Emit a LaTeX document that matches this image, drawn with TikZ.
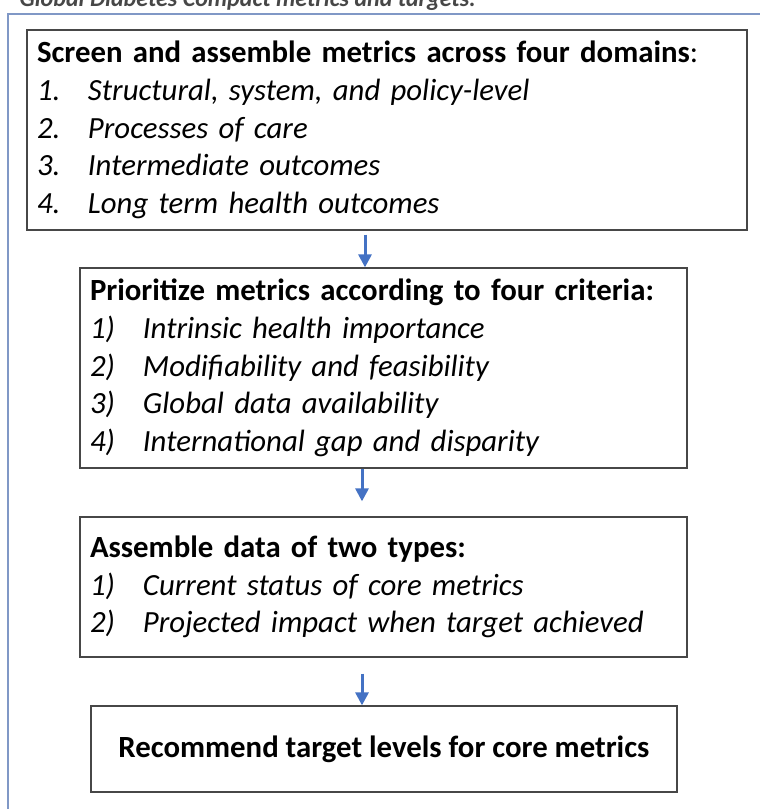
\documentclass[tikz,border=0pt]{standalone}
\usepackage{fontspec}
\setmainfont{Carlito}
\usetikzlibrary{arrows.meta,positioning}

\definecolor{frameblue}{RGB}{128,152,198}
\definecolor{arrowblue}{RGB}{68,114,196}

\tikzset{
  stepbox/.style={draw=black!72, line width=1.3pt, align=left, inner xsep=10pt, inner ysep=0pt,
                  font=\fontsize{30.8}{37.7}\selectfont},
  flow/.style={arrowblue, line width=3pt, -{Triangle[length=13pt,width=13pt]}},
}
% numbered entry: italic label in a fixed-width slot, then italic text
\newcommand{\entry}[3][51pt]{\makebox[#1][l]{\textit{#2}}\textit{#3}}

\begin{document}
\begin{tikzpicture}[x=1pt,y=-1pt]
\useasboundingbox (0,0) rectangle (760,809);
\clip (0,0) rectangle (760,809);

% heading, cut at the top edge
\node[anchor=base west, text=black!72, font=\bfseries\itshape\fontsize{24}{28}\selectfont]
  (head) at (16,6) {Global Diabetes Compact metrics and targets:};
% outer frame
\draw[frameblue, line width=1.5pt] (8,14) rectangle (820,860);

% steps
\node[stepbox, minimum width=720pt, minimum height=200pt, text width=700pt] (screen) at (387,130)
  {\textbf{Screen and assemble metrics across four domains}:\\
   \entry{1.}{Structural, system, and policy-level}\\
   \entry{2.}{Processes of care}\\
   \entry{3.}{Intermediate outcomes}\\
   \entry{4.}{Long term health outcomes}};
\node[stepbox, minimum width=607pt, minimum height=200pt, text width=587pt] (prior) at (383.5,368)
  {\textbf{Prioritize metrics according to four criteria:}\\
   \entry[53pt]{1)}{Intrinsic health importance}\\
   \entry[53pt]{2)}{Modifiability and feasibility}\\
   \entry[53pt]{3)}{Global data availability}\\
   \entry[53pt]{4)}{International gap and disparity}};
\node[stepbox, minimum width=607pt, minimum height=140pt, text width=587pt] (assemble) at (383.5,587)
  {\textbf{Assemble data of two types:}\\
   \entry[53pt]{1)}{Current status of core metrics}\\
   \entry[53pt]{2)}{Projected impact when target achieved}};
\node[stepbox, align=center, minimum width=586pt, minimum height=86pt] (target) at (384,749)
  {\textbf{Recommend target levels for core metrics}};

% arrows between steps
\draw[flow] ([xshift=-22pt,yshift=-4pt]screen.south) -- ([xshift=-22pt]screen.south |- prior.north);
\draw[flow] ([xshift=-21.5pt]prior.south) -- ([xshift=-21.5pt,yshift=15pt]prior.south |- assemble.north);
\draw[flow] ([xshift=-21.5pt,yshift=-16pt]assemble.south) -- ([xshift=-21.5pt]assemble.south |- target.north);
\end{tikzpicture}
\end{document}
